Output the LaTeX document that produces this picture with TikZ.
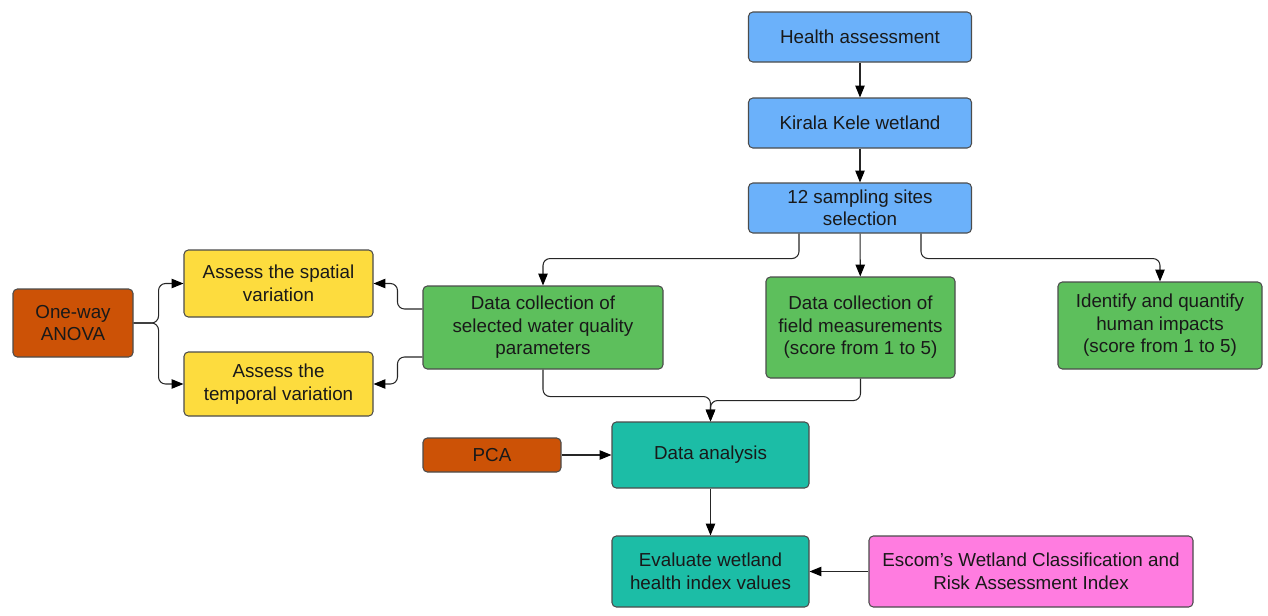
\documentclass[tikz,border=0pt]{standalone}
\usepackage{fontspec}
\setmainfont{Liberation Sans}
\usetikzlibrary{arrows.meta}

\definecolor{boxblue}{HTML}{6BB1FA}
\definecolor{boxgreen}{HTML}{5DBF5C}
\definecolor{boxyellow}{HTML}{FDDC3E}
\definecolor{boxorange}{HTML}{CC5206}
\definecolor{boxteal}{HTML}{1CBDA6}
\definecolor{boxpink}{HTML}{FF7CE0}

\begin{document}
\begin{tikzpicture}[
        box/.style={draw=black!70, line width=0.6pt, rounded corners=2.5pt, align=center,
            inner sep=0pt, text=black!90, font=\fontsize{10.7}{12.8}\selectfont},
        link/.style={draw=black!85, line width=0.6pt, rounded corners=4pt,
            -{Triangle[length=6.8pt,width=5.4pt,color=black]}}
    ]
        \useasboundingbox (0,0) rectangle (25.36,-12.32);

        \node[box, fill=boxblue, minimum width=4.46cm, minimum height=1cm] (health) at(17.2,-0.74){Health assessment};
        \node[box, fill=boxblue, minimum width=4.46cm, minimum height=1cm] (kirala) at(17.2,-2.46){Kirala Kele wetland};
        \node[box, fill=boxblue, minimum width=4.46cm, minimum height=1cm] (sites) at(17.2,-4.16){12 sampling sites\\selection};

        \node[box, fill=boxgreen, minimum width=4.8cm, minimum height=1.66cm] (water) at(10.86,-6.55){Data collection of\\selected water quality\\parameters};
        \node[box, fill=boxgreen, minimum width=3.78cm, minimum height=2.02cm] (field) at(17.21,-6.55){Data collection of\\field measurements\\(score from 1 to 5)};
        \node[box, fill=boxgreen, minimum width=4.08cm, minimum height=1.74cm] (human) at(23.2,-6.51){Identify and quantify\\human impacts\\(score from 1 to 5)};

        \node[box, fill=boxyellow, minimum width=3.78cm, minimum height=1.34cm] (spatial) at(5.57,-5.67){Assess the spatial\\variation};
        \node[box, fill=boxyellow, minimum width=3.78cm, minimum height=1.28cm] (temporal) at(5.57,-7.68){Assess the\\temporal variation};
        \node[box, fill=boxorange, minimum width=2.4cm, minimum height=1.36cm] (anova) at(1.46,-6.46){One-way\\ANOVA};

        \node[box, fill=boxteal, minimum width=3.94cm, minimum height=1.32cm] (analysis) at(14.21,-9.1){Data analysis};
        \node[box, fill=boxorange, minimum width=2.76cm, minimum height=0.68cm] (pca) at(9.84,-9.1){PCA};
        \node[box, fill=boxteal, minimum width=3.94cm, minimum height=1.42cm] (evaluate) at(14.21,-11.43){Evaluate wetland\\health index values};
        \node[box, fill=boxpink, minimum width=6.48cm, minimum height=1.42cm] (escom) at(20.62,-11.43){Escom's Wetland Classification and\\Risk Assessment Index};

        \draw[link] (health) to (kirala);
        \draw[link] (kirala) to (sites);
        \draw[link] (sites) to (field);
        \draw[link] ([xshift=-1.22cm]sites.south) -- ++(0,-0.5) -| (water.north);
        \draw[link] ([xshift=1.22cm]sites.south) -- ++(0,-0.5) -| (human.north);

        \draw[link] ([yshift=0.37cm]water.west) -- ++(-0.5,0) |- (spatial.east);
        \draw[link] ([yshift=-0.59cm]water.west) -- ++(-0.5,0) |- (temporal.east);
        \draw[link] (anova.east) -- ++(0.5,0) |- (spatial.west);
        \draw[link] (anova.east) -- ++(0.5,0) |- (temporal.west);

        \draw[link] (water.south) -- ++(0,-0.54) -| (analysis.north);
        \draw[link] (field.south) -- ++(0,-0.44) -| (analysis.north);
        \draw[link] (pca) to (analysis);
        \draw[link] (analysis) to (evaluate);
        \draw[link] (escom) to (evaluate);

    \end{tikzpicture}
\end{document}
